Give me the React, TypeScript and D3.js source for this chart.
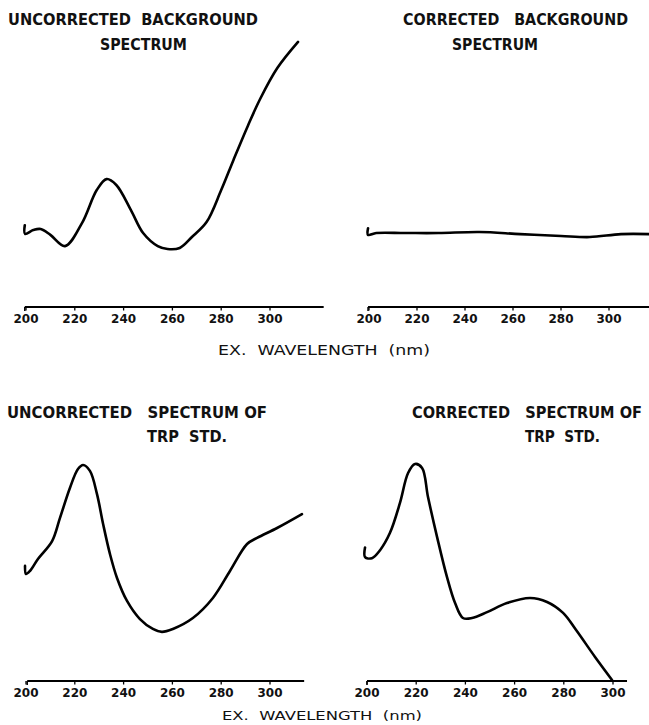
import React from "react";
import * as d3 from "d3";

// ---- Data (excitation wavelength nm, relative intensity) ----
const ticks = [200, 220, 240, 260, 280, 300];

const bgUncorrWl = [199.5, 199.6, 203, 206, 210, 216, 223, 229, 233, 237, 243, 248, 254, 258, 263, 268, 274, 280, 285, 291, 296, 303, 311.5];
const bgUncorrVal = [30.6, 27.4, 28.8, 29.2, 27, 22.8, 31.5, 43.8, 47.9, 45.7, 36.3, 27.7, 22.8, 21.7, 22.1, 26.2, 31.8, 43.8, 55, 68, 78, 89.5, 99.3];

const bgCorrWl = [199.6, 199.6, 203, 215, 229, 246, 263, 280, 292, 305, 317];
const bgCorrVal = [29.5, 27, 27.7, 27.7, 27.7, 28.1, 27.3, 26.6, 26.2, 27.3, 27.3];

const trpUncorrWl = [199.6, 200, 201.6, 204.9, 210.7, 213.9, 218, 221.3, 223.4, 226.2, 229.1, 231.6, 234.4, 237.3, 241.4, 246.7, 252, 255.7, 260.2, 268.4, 276.6, 283.6, 290.6, 294.7, 302.9, 313.1];
const trpUncorrVal = [43.1, 40.1, 41.2, 45.7, 52.4, 61, 72.3, 79.4, 80.9, 78.7, 70, 58.8, 47.6, 38.6, 30, 23.2, 19.5, 18.4, 19.5, 23.6, 31.1, 41.2, 51.3, 53.6, 57.3, 62.5];

const trpCorrWl = [199.2, 199.2, 202, 205.3, 209.3, 213.4, 216.7, 219.5, 222.4, 224.8, 228.5, 232.5, 235.8, 239, 242.7, 248.8, 256.9, 266.3, 273.2, 279.7, 285, 292.7, 299.6];
const trpCorrVal = [50, 46.4, 46, 49, 55.4, 66.7, 77.9, 81.3, 79.8, 68.9, 53.9, 39, 29.2, 23.6, 23.6, 25.8, 29.2, 31.1, 29.6, 25.5, 19.1, 9, 0.4];

const FONT = "'DejaVu Sans', Verdana, sans-serif";
const PRE: React.CSSProperties = { whiteSpace: "pre" };

type PanelProps = {
  wl: number[];
  val: number[];
  x0: number; // pixel of 200 nm
  x1: number; // pixel of 300 nm
  axisEnd: number;
  axisStart: number;
  yBase: number;
  yTop: number;
  labelBaseline: number;
  titles: { text: string; x: number; y: number; w: number }[];
};

function Panel(p: PanelProps) {
  const x = d3.scaleLinear().domain([200, 300]).range([p.x0, p.x1]);
  const y = d3.scaleLinear().domain([0, 100]).range([p.yBase, p.yTop]);
  const pts: [number, number][] = p.wl.map((w, i) => [w, p.val[i]]);
  const line = d3
    .line<[number, number]>()
    .x((d) => x(d[0]))
    .y((d) => y(d[1]))
    .curve(d3.curveCatmullRom.alpha(0.5));
  const ay = y(0);
  return (
    <g>
      {p.titles.map((t, i) => (
        <text
          key={i}
          x={t.x}
          y={t.y}
          textLength={t.w}
          lengthAdjust="spacingAndGlyphs"
          fontFamily={FONT}
          fontWeight={700}
          fontSize={15}
          fill="#111"
          xmlSpace="preserve"
          style={PRE}
        >
          {t.text}
        </text>
      ))}
      <path d={line(pts) || ""} fill="none" stroke="#000" strokeWidth={2.6} strokeLinejoin="round" strokeLinecap="round" />
      <line x1={x(p.axisStart)} x2={x(p.axisEnd)} y1={ay} y2={ay} stroke="#000" strokeWidth={2} />
      <line x1={x(p.axisStart)} x2={x(p.axisStart)} y1={ay} y2={ay + 4} stroke="#000" strokeWidth={1.5} />
      {ticks.map((t) => (
        <g key={t}>
          <line x1={x(t)} x2={x(t)} y1={ay} y2={ay + 3.5} stroke="#000" strokeWidth={1.3} />
          <text
            x={x(t)}
            y={p.labelBaseline}
            textAnchor="middle"
            textLength={25}
            lengthAdjust="spacingAndGlyphs"
            fontFamily={FONT}
            fontWeight={700}
            fontSize={12}
            fill="#111"
          >
            {t}
          </text>
        </g>
      ))}
    </g>
  );
}

export default function App() {
  return (
    <svg
      width={649}
      height={725}
      style={{ position: "absolute", left: 0, top: 0, background: "#fff" }}
    >
      <rect width={649} height={725} fill="#fff" />
      <Panel
        wl={bgUncorrWl}
        val={bgUncorrVal}
        x0={26}
        x1={270}
        axisStart={199.5}
        axisEnd={322}
        yBase={307}
        yTop={40}
        labelBaseline={323}
        titles={[
          { text: "UNCORRECTED  BACKGROUND", x: 8, y: 25, w: 250 },
          { text: "SPECTRUM", x: 100, y: 50, w: 87 },
        ]}
      />
      <Panel
        wl={bgCorrWl}
        val={bgCorrVal}
        x0={369}
        x1={609}
        axisStart={199.6}
        axisEnd={317}
        yBase={307}
        yTop={40}
        labelBaseline={323}
        titles={[
          { text: "CORRECTED   BACKGROUND", x: 403, y: 25, w: 225 },
          { text: "SPECTRUM", x: 452, y: 50, w: 86 },
        ]}
      />
      <text x={218} y={355} textLength={212} lengthAdjust="spacingAndGlyphs" fontFamily={FONT} fontSize={14} fill="#111" xmlSpace="preserve" style={PRE}>
        EX.  WAVELENGTH  (nm)
      </text>
      <Panel
        wl={trpUncorrWl}
        val={trpUncorrVal}
        x0={26}
        x1={270}
        axisStart={200.5}
        axisEnd={314}
        yBase={681}
        yTop={414}
        labelBaseline={697}
        titles={[
          { text: "UNCORRECTED   SPECTRUM OF", x: 7, y: 418, w: 260 },
          { text: "TRP  STD.", x: 147, y: 442, w: 80 },
        ]}
      />
      <Panel
        wl={trpCorrWl}
        val={trpCorrVal}
        x0={367}
        x1={613}
        axisStart={200}
        axisEnd={305.7}
        yBase={681}
        yTop={414}
        labelBaseline={697}
        titles={[
          { text: "CORRECTED   SPECTRUM OF", x: 412, y: 418, w: 230 },
          { text: "TRP  STD.", x: 525, y: 442, w: 75 },
        ]}
      />
      <text x={222} y={720} textLength={200} lengthAdjust="spacingAndGlyphs" fontFamily={FONT} fontSize={12} fill="#111" xmlSpace="preserve" style={PRE}>
        EX.  WAVELENGTH  (nm)
      </text>
    </svg>
  );
}
